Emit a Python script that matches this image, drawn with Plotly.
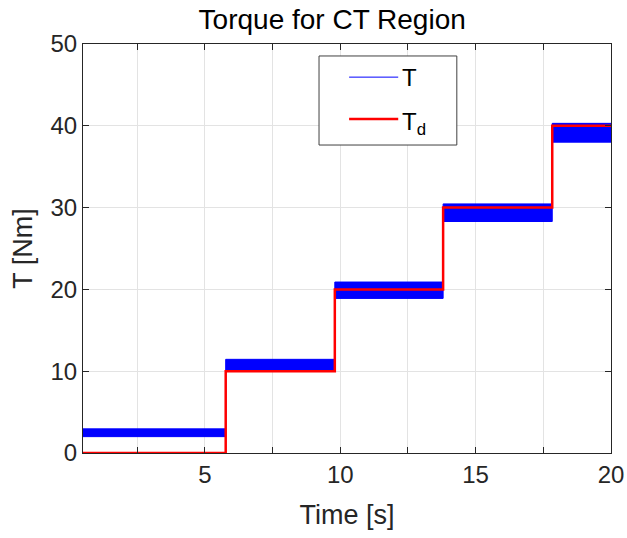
import plotly.graph_objects as go

# Segment boundaries of the commanded torque steps [s]
step_edges = [0.5, 5.77, 9.8, 13.8, 17.83, 20.0]
# Desired torque per segment [Nm]
td_levels = [0, 10, 20, 30, 40]
# Envelope of the measured (rippling) torque per segment [Nm]
t_low = [2.0, 10.0, 18.9, 28.3, 38.0]
t_high = [2.95, 11.45, 20.9, 30.45, 40.3]

x_tick_vals = [5, 10, 15, 20]
x_minor_vals = [2.5, 7.5, 12.5, 17.5]
y_tick_vals = [0, 10, 20, 30, 40, 50]

FONT = "Liberation Sans, Arial, Helvetica, sans-serif"
AX = "#262626"
BLUE = "#0000ff"
RED = "#ff0000"


def step_series(levels):
    # hv step: one point at each segment start, plus closing point at the end
    return step_edges, list(levels) + [levels[-1]]


fig = go.Figure()

xs, lo = step_series(t_low)
_, hi = step_series(t_high)
fig.add_trace(go.Scatter(x=xs, y=lo, mode="lines", line=dict(color=BLUE, width=1, shape="hv"),
                         showlegend=False, hoverinfo="skip"))
fig.add_trace(go.Scatter(x=xs, y=hi, mode="lines", name="T",
                         line=dict(color=BLUE, width=1, shape="hv"),
                         fill="tonexty", fillcolor=BLUE, showlegend=False))

xd, yd = step_series(td_levels)
fig.add_trace(go.Scatter(x=xd, y=yd, mode="lines", name="T<sub>d</sub>",
                         line=dict(color=RED, width=2.5, shape="hv"), showlegend=False))

axis_common = dict(
    showline=True, linecolor=AX, linewidth=1, mirror="ticks",
    ticks="inside", ticklen=6, tickcolor=AX, tickwidth=1,
    showgrid=True, gridcolor="#e3e3e3", gridwidth=1, zeroline=False,
    tickfont=dict(family=FONT, size=24, color=AX), automargin=False,
)

# Boxed legend (MATLAB style) laid out in paper coordinates
leg_box = dict(x0=0.447, x1=0.708, y0=0.753, y1=0.9707)
leg_line_x = (0.504, 0.597)
leg_rows = [("T", BLUE, 1, 0.919, 0.919), ("T<sub>d</sub>", RED, 2.5, 0.8166, 0.806)]

shapes = [dict(type="rect", xref="paper", yref="paper", **leg_box,
               line=dict(color="#404040", width=1), fillcolor="white", layer="above")]
annotations = []
for label, color, width, y_line, y_text in leg_rows:
    shapes.append(dict(type="line", xref="paper", yref="paper",
                       x0=leg_line_x[0], x1=leg_line_x[1], y0=y_line, y1=y_line,
                       line=dict(color=color, width=width), layer="above"))
    annotations.append(dict(text=label, xref="paper", yref="paper", x=0.600, y=y_text,
                            xanchor="left", yanchor="middle", showarrow=False,
                            font=dict(family=FONT, size=24, color="#000000")))

fig.update_layout(
    width=627, height=538,
    margin=dict(l=83, r=16, t=44, b=85),
    paper_bgcolor="white", plot_bgcolor="white",
    font=dict(family=FONT, color=AX),
    title=dict(text="Torque for CT Region", font=dict(family=FONT, size=28, color="#000000"),
               xref="paper", x=0.472, xanchor="center",
               yref="container", y=1 - 19 / 538, yanchor="middle"),
    xaxis=dict(range=[0.5, 20], tickmode="array", tickvals=x_tick_vals,
               minor=dict(tickmode="array", tickvals=x_minor_vals, ticks="inside", ticklen=6,
                          tickcolor=AX, showgrid=True, gridcolor="#e3e3e3"),
               title=dict(text="Time [s]", font=dict(family=FONT, size=27, color=AX), standoff=18),
               **axis_common),
    yaxis=dict(range=[0, 50], tickmode="array", tickvals=y_tick_vals,
               title=dict(text="T [Nm]", font=dict(family=FONT, size=27, color=AX), standoff=10),
               **axis_common),
    shapes=shapes,
    annotations=annotations,
    showlegend=False,
)

fig.write_html("out.html")
